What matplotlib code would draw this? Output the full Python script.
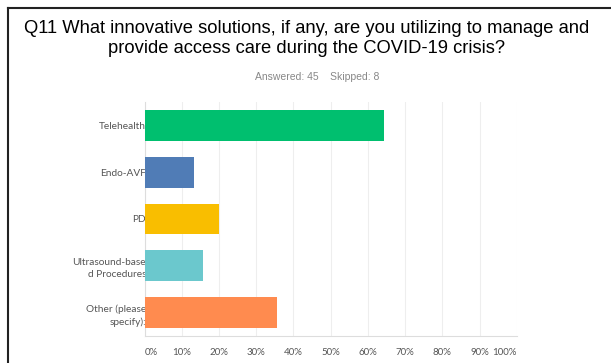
import matplotlib
matplotlib.use('Agg')
import matplotlib.pyplot as plt
from matplotlib.lines import Line2D

categories = ['Telehealth', 'Endo-AVF', 'PD', 'Ultrasound-base\nd Procedures', 'Other (please\nspecify):']
percents = [64.44, 13.33, 20.00, 15.56, 35.56]
colors = ['#00bf6f', '#507cb6', '#f9be00', '#6bc8cd', '#ff8b4f']
xticks = [0, 10, 20, 30, 40, 50, 60, 70, 80, 90, 100]
xticklabels = ['{}%'.format(t) for t in xticks]
title_lines = ['Q11 What innovative solutions, if any, are you utilizing to manage and',
               'provide access care during the COVID-19 crisis?']

W, H = 611, 363
fig = plt.figure(figsize=(W/100, H/100), dpi=100)
ax = fig.add_axes([0.2368, 0.0744, 0.6089, 0.6446])

ypos = list(range(len(categories)))
ax.barh(ypos, percents, height=0.66, color=colors, zorder=3)
ax.set_ylim(4.5, -0.5)
ax.set_xlim(0, 100)

ax.set_xticks(xticks)
ax.set_xticklabels(xticklabels, fontsize=7, color='#555555', family='Lato')
labs = ax.get_xticklabels()
labs[0].set_ha('left')
labs[-1].set_ha('right')
ax.tick_params(axis='x', length=0, pad=9)
ax.set_yticks(ypos)
ax.set_yticklabels(categories, fontsize=7.3, color='#555555', family='Lato', linespacing=1.5)
ax.tick_params(axis='y', length=0, pad=-1)
for l in ax.get_yticklabels():
    l.set_zorder(5)

ax.grid(axis='x', color='#eeeeee', linewidth=0.8, zorder=0)
for s in ['top', 'right']:
    ax.spines[s].set_visible(False)
ax.spines['left'].set_color('#dddddd')
ax.spines['bottom'].set_color('#dddddd')

fig.text(307/W, 1-33.3/H, title_lines[0], ha='center', va='baseline',
         fontsize=13.2, family='Liberation Sans')
fig.text(307/W, 1-53.3/H, title_lines[1], ha='center', va='baseline',
         fontsize=13.2, family='Liberation Sans')
fig.text(317/W, 1-77.3/H, 'Answered: 45    Skipped: 8', ha='center', va='center',
         fontsize=7.5, color='#888888', family='Liberation Sans')

# frame lines (left and top)
fig.add_artist(Line2D([8/W, 8/W], [0, 1-8/H], transform=fig.transFigure, color='#222222', linewidth=1.5))
fig.add_artist(Line2D([8/W, 1], [1-8/H, 1-8/H], transform=fig.transFigure, color='#222222', linewidth=1.5))

fig.savefig('out.png', dpi=100)
